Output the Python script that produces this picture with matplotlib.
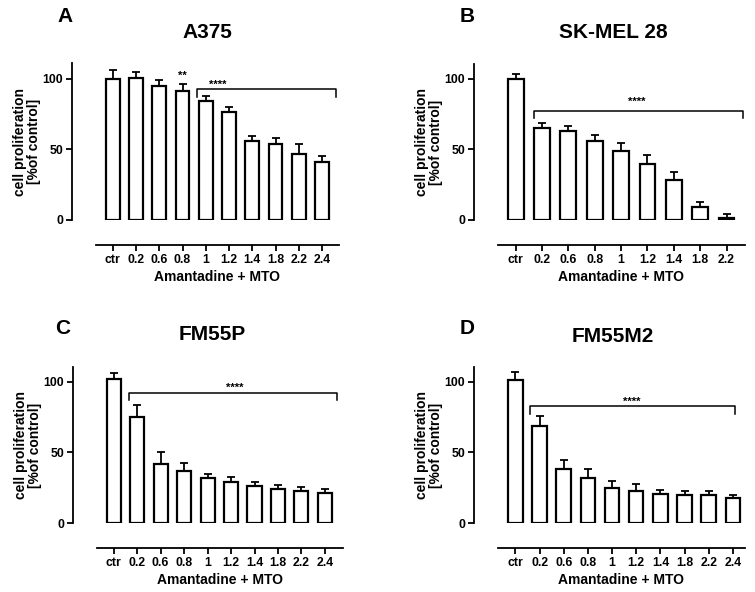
import matplotlib
matplotlib.use("Agg")
import matplotlib.pyplot as plt

plt.rcParams['font.family'] = ['Liberation Sans', 'DejaVu Sans']
plt.rcParams['font.weight'] = 'bold'

# doses (x categories)
doses_10 = ["ctr", "0.2", "0.6", "0.8", "1", "1.2", "1.4", "1.8", "2.2", "2.4"]
doses_9 = ["ctr", "0.2", "0.6", "0.8", "1", "1.2", "1.4", "1.8", "2.2"]

# A375
a375_mean = [100, 100.7, 95, 91.5, 84.4, 76.6, 55.6, 53.7, 47, 40.7]
a375_err = [6, 4, 4, 5, 3, 3, 3.5, 4, 6.5, 4.5]

# SK-MEL 28
skmel_mean = [100, 65.2, 62.8, 55.7, 49, 39.6, 28, 9.5, 1.2]
skmel_err = [3.5, 3.8, 4, 4.5, 5.3, 6.4, 6.2, 3.5, 2.8]

# FM55P
fm55p_mean = [102, 75.1, 41.7, 36.7, 31.8, 28.9, 26.3, 24.4, 23, 21.1]
fm55p_err = [4.3, 8.5, 8.3, 6, 3, 3.6, 2.8, 2.6, 2.8, 2.9]

# FM55M2
fm55m2_mean = [101.2, 69, 38.5, 31.9, 25, 22.5, 20.6, 19.6, 19.6, 17.7]
fm55m2_err = [5.7, 6.6, 5.9, 6.6, 5, 5, 3, 3, 3, 2.4]

W, H = 755, 592
fig = plt.figure(figsize=(W / 100, H / 100), dpi=100)


def box(left, right, top, bottom):
    return [left / W, 1 - bottom / H, (right - left) / W, (bottom - top) / H]


panels = [
    # letter, title, labels, means, errs, (l, r, top, bottom) px, ylim top, xlim,
    # bracket (x0, x1, y, drop), stars (x, y), letter pos px, title pos px
    ("A", "A375", doses_10, a375_mean, a375_err, (96, 339, 63, 220), 111,
     (-0.72, 9.73), (3.63, 9.61, 92.7, 87), (4.5, 95.8), (65, 17), (207, 33)),
    ("B", "SK-MEL 28", doses_9, skmel_mean, skmel_err, (498, 745, 64, 220), 110.5,
     (-0.67, 8.70), (0.70, 8.61, 77.5, 72), (4.6, 84), (467, 17), (613, 33)),
    ("C", "FM55P", doses_10, fm55p_mean, fm55p_err, (97, 343, 367, 523), 110.5,
     (-0.71, 9.77), (0.67, 9.53, 92.4, 87), (5.17, 95.5), (63, 328), (212, 335)),
    ("D", "FM55M2", doses_10, fm55m2_mean, fm55m2_err, (498, 745, 367, 523), 110.5,
     (-0.72, 9.5), (0.6, 9.1, 82.7, 77.5), (4.8, 85.8), (467, 328), (613, 337)),
]

for letter, title, labels, mean, err, px, ytop, xlim, br, stars, lpos, tpos in panels:
    ax = fig.add_axes(box(*px))
    x = list(range(len(labels)))
    ax.bar(x, mean, width=0.6, color='white', edgecolor='black', linewidth=1.6, zorder=2)
    ax.errorbar(x, mean, yerr=[[0] * len(err), err], fmt='none', ecolor='black',
                elinewidth=1.3, capsize=3, capthick=1.3, zorder=3)
    ax.set_xlim(*xlim)
    ax.set_ylim(0, ytop)
    ax.set_yticks([0, 50, 100])
    ax.set_xticks(x)
    ax.set_xticklabels(labels)
    for s in ['top', 'right']:
        ax.spines[s].set_visible(False)
    ax.spines['left'].set_position(('outward', 17))
    ax.spines['bottom'].set_position(('outward', 18))
    ax.spines['left'].set_linewidth(1.3)
    ax.spines['bottom'].set_linewidth(1.3)
    ax.tick_params(axis='both', direction='out', length=4.5, width=1.3,
                   labelsize=8.8, pad=2)
    for lab in ax.get_xticklabels() + ax.get_yticklabels():
        lab.set_fontweight('bold')
    ax.set_xlabel("Amantadine + MTO", fontsize=10, fontweight='bold', labelpad=3)

    # y label, two lines, left of the spine
    spine_x = px[0] - 17
    fig.text((spine_x - 52) / W, 1 - (px[2] + px[3]) / 2 / H,
             "cell proliferation\n[%of control]", rotation=90, fontsize=10,
             fontweight='bold', ha='center', va='center', multialignment='center',
             linespacing=1.05)

    fig.text(tpos[0] / W, 1 - tpos[1] / H, title, fontsize=15, fontweight='bold',
             ha='center', va='center')
    fig.text(lpos[0] / W, 1 - lpos[1] / H, letter, fontsize=15, fontweight='bold',
             ha='center', va='center')

    # significance bracket
    x0, x1, yb, yd = br
    ax.plot([x0, x0, x1, x1], [yd, yb, yb, yd], color='black', lw=1.1,
            clip_on=False, zorder=4)
    ax.text(stars[0], stars[1], "****", fontsize=8, ha='center', va='center')
    if letter == "A":
        ax.text(3, 102, "**", fontsize=8, ha='center', va='center')

fig.savefig("out.png", dpi=100)
